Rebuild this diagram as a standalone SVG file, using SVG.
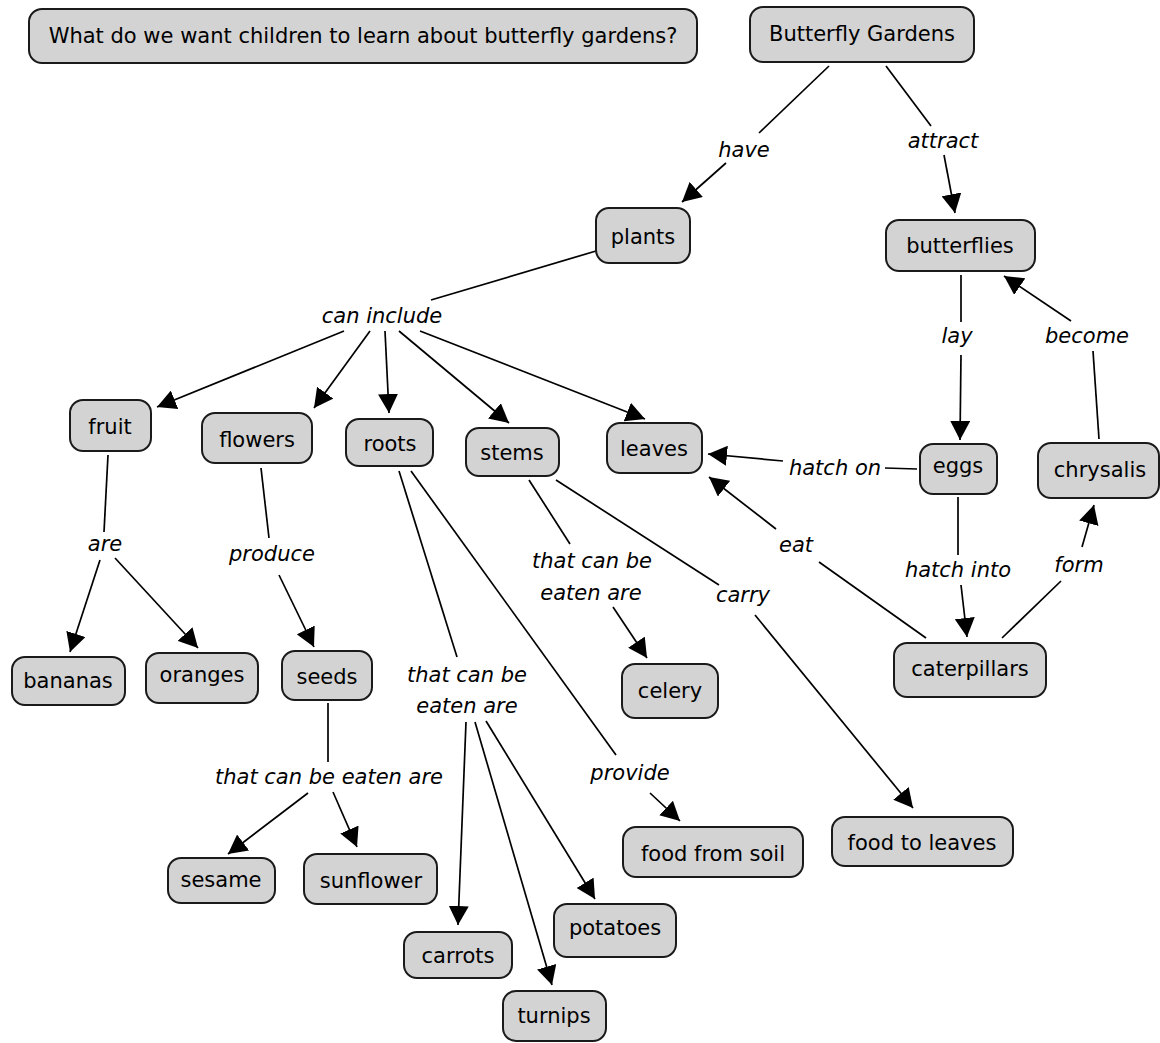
<svg xmlns="http://www.w3.org/2000/svg" width="1160" height="1043" viewBox="0 0 1160 1043">
<style>
.n rect{fill:#d3d3d3;stroke:#1a1a1a;stroke-width:2}
.n text{font-family:"DejaVu Sans",sans-serif;font-size:21px;fill:#000;text-anchor:middle}
.l{font-family:"DejaVu Sans",sans-serif;font-size:21px;font-style:italic;fill:#000;text-anchor:middle}
#connectors path{stroke:#000;stroke-width:1.7;fill:none}
#connectors path.a{marker-end:url(#ah)}
</style>
<defs>
<marker id="ah" markerUnits="userSpaceOnUse" markerWidth="19" markerHeight="20" refX="19" refY="10" orient="auto">
<path d="M0,0 L19,10 L0,20 z" fill="#000"/>
</marker>
</defs>
<rect width="1160" height="1043" fill="#fff"/>
<g id="connectors">
<path d="M829,66 L759,133"/>
<path class="a" d="M726,163 L682,202"/>
<path d="M886,66 L931,126"/>
<path class="a" d="M944,155 L955,213"/>
<path d="M596,251 L431,300"/>
<path class="a" d="M344,331 L157,407"/>
<path class="a" d="M370,331 L314,408"/>
<path class="a" d="M385,331 L389,413"/>
<path class="a" d="M399,331 L509,423"/>
<path class="a" d="M420,331 L645,419"/>
<path d="M108,455 L104,532"/>
<path class="a" d="M100,560 L70,652"/>
<path class="a" d="M115,558 L198,648"/>
<path d="M261,468 L269,538"/>
<path class="a" d="M279,575 L314,647"/>
<path d="M399,471 L457,657"/>
<path class="a" d="M466,722 L458,925"/>
<path class="a" d="M475,722 L552,985"/>
<path class="a" d="M486,721 L595,899"/>
<path d="M411,471 L616,755"/>
<path class="a" d="M650,793 L680,821"/>
<path d="M328,703 L328,762"/>
<path class="a" d="M308,793 L228,854"/>
<path class="a" d="M333,792 L357,847"/>
<path d="M529,480 L570,544"/>
<path class="a" d="M613,607 L647,658"/>
<path d="M556,480 L719,585"/>
<path class="a" d="M755,615 L913,808"/>
<path d="M917,469 L885,468"/>
<path class="a" d="M783,461 L708,454"/>
<path d="M926,638 L819,562"/>
<path class="a" d="M776,529 L709,477"/>
<path d="M958,497 L958,555"/>
<path class="a" d="M961,585 L967,637"/>
<path d="M1002,638 L1061,581"/>
<path class="a" d="M1082,547 L1094,505"/>
<path d="M961,275 L961,322"/>
<path class="a" d="M961,355 L960,440"/>
<path d="M1099,439 L1093,351"/>
<path class="a" d="M1071,321 L1004,276"/>
</g>
<g id="labels">
<text class="l" x="744" y="157">have</text>
<text class="l" x="943" y="148">attract</text>
<text class="l" x="382" y="323">can include</text>
<text class="l" x="957" y="343">lay</text>
<text class="l" x="1087" y="343">become</text>
<text class="l" x="105" y="551">are</text>
<text class="l" x="272" y="561">produce</text>
<text class="l" x="467" y="682">that can be</text>
<text class="l" x="467" y="713">eaten are</text>
<text class="l" x="592" y="568">that can be</text>
<text class="l" x="591" y="600">eaten are</text>
<text class="l" x="743" y="602">carry</text>
<text class="l" x="630" y="780">provide</text>
<text class="l" x="329" y="784">that can be eaten are</text>
<text class="l" x="835" y="475">hatch on</text>
<text class="l" x="796" y="552">eat</text>
<text class="l" x="958" y="577">hatch into</text>
<text class="l" x="1079" y="572">form</text>
</g>
<g id="n-question" class="n"><rect x="29" y="9" width="668" height="54" rx="13"/><text x="363" y="43">What do we want children to learn about butterfly gardens?</text></g>
<g id="n-butterfly-gardens" class="n"><rect x="750" y="7" width="224" height="55" rx="13"/><text x="862" y="41">Butterfly Gardens</text></g>
<g id="n-plants" class="n"><rect x="596" y="208" width="94" height="55" rx="13"/><text x="643" y="244">plants</text></g>
<g id="n-butterflies" class="n"><rect x="886" y="220" width="149" height="51" rx="13"/><text x="960" y="253">butterflies</text></g>
<g id="n-fruit" class="n"><rect x="70" y="400" width="81" height="51" rx="13"/><text x="110" y="434">fruit</text></g>
<g id="n-flowers" class="n"><rect x="202" y="413" width="110" height="50" rx="13"/><text x="257" y="447">flowers</text></g>
<g id="n-roots" class="n"><rect x="346" y="419" width="87" height="47" rx="13"/><text x="390" y="451">roots</text></g>
<g id="n-stems" class="n"><rect x="466" y="428" width="93" height="48" rx="13"/><text x="512" y="460">stems</text></g>
<g id="n-leaves" class="n"><rect x="607" y="423" width="95" height="50" rx="13"/><text x="654" y="456">leaves</text></g>
<g id="n-eggs" class="n"><rect x="920" y="444" width="77" height="50" rx="13"/><text x="958" y="473">eggs</text></g>
<g id="n-chrysalis" class="n"><rect x="1038" y="443" width="121" height="55" rx="13"/><text x="1100" y="477">chrysalis</text></g>
<g id="n-caterpillars" class="n"><rect x="894" y="643" width="152" height="54" rx="13"/><text x="970" y="676">caterpillars</text></g>
<g id="n-celery" class="n"><rect x="622" y="664" width="96" height="54" rx="13"/><text x="670" y="698">celery</text></g>
<g id="n-bananas" class="n"><rect x="12" y="657" width="113" height="48" rx="13"/><text x="68" y="688">bananas</text></g>
<g id="n-oranges" class="n"><rect x="146" y="653" width="112" height="50" rx="13"/><text x="202" y="682">oranges</text></g>
<g id="n-seeds" class="n"><rect x="282" y="651" width="90" height="49" rx="13"/><text x="327" y="684">seeds</text></g>
<g id="n-sesame" class="n"><rect x="168" y="858" width="107" height="45" rx="13"/><text x="221" y="887">sesame</text></g>
<g id="n-sunflower" class="n"><rect x="304" y="854" width="133" height="50" rx="13"/><text x="371" y="888">sunflower</text></g>
<g id="n-food-from-soil" class="n"><rect x="623" y="827" width="180" height="50" rx="13"/><text x="713" y="861">food from soil</text></g>
<g id="n-food-to-leaves" class="n"><rect x="832" y="817" width="181" height="49" rx="13"/><text x="922" y="850">food to leaves</text></g>
<g id="n-potatoes" class="n"><rect x="554" y="904" width="122" height="53" rx="13"/><text x="615" y="935">potatoes</text></g>
<g id="n-carrots" class="n"><rect x="404" y="932" width="108" height="46" rx="13"/><text x="458" y="963">carrots</text></g>
<g id="n-turnips" class="n"><rect x="503" y="991" width="103" height="50" rx="13"/><text x="554" y="1023">turnips</text></g>
</svg>
